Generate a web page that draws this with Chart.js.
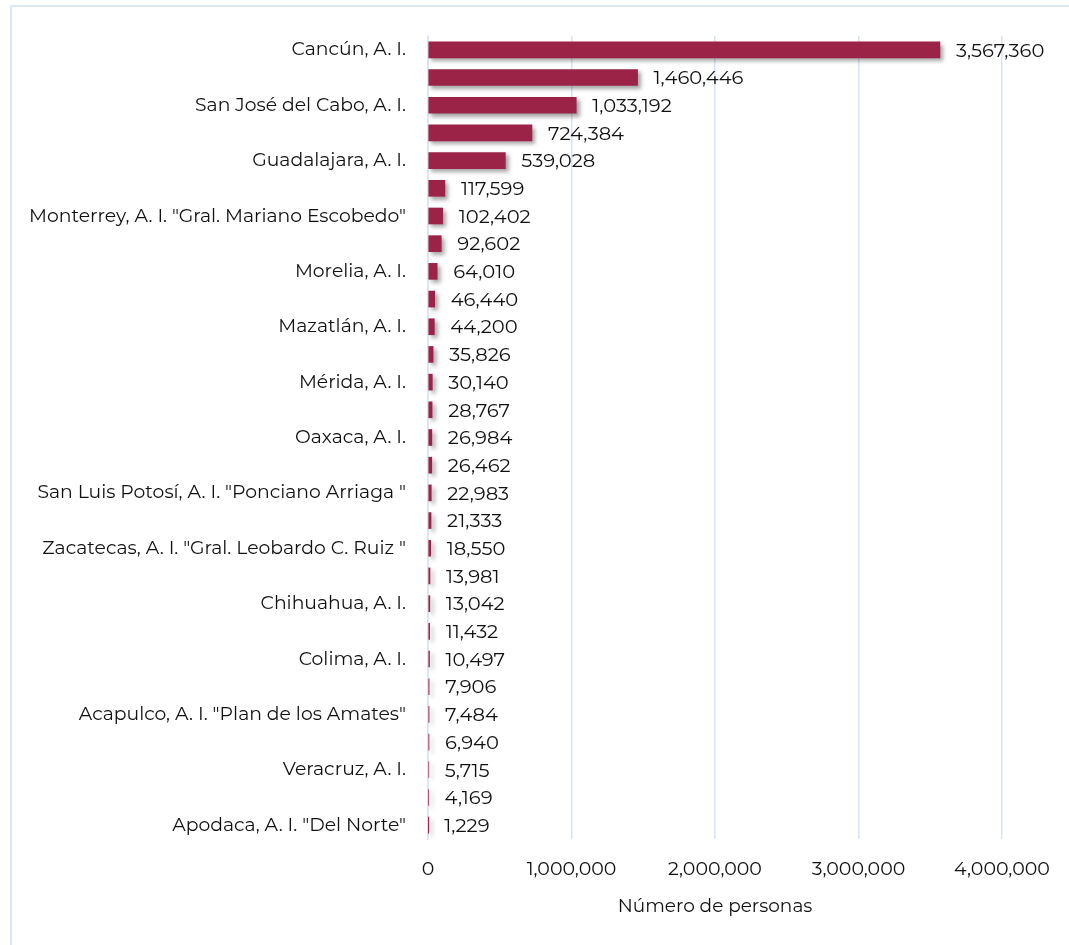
<!DOCTYPE html>
<html lang="es">
<head>
<meta charset="utf-8">
<title>Número de personas por aeropuerto</title>
<script src="https://cdn.jsdelivr.net/npm/chart.js@4.4.1/dist/chart.umd.min.js"></script>
<style>
  html, body { margin: 0; padding: 0; background: #fff; overflow: hidden; }
  .marco {
    position: absolute; left: 10px; top: 5px;
    width: 1100px; height: 980px;
    border: 2px solid #dde8f5;
    box-sizing: border-box;
  }
  .lienzo { position: absolute; left: 0; top: 0; width: 1069px; height: 945px; }
</style>
</head>
<body>
<div class="marco"></div>
<div class="lienzo"><canvas id="grafica"></canvas></div>
<script>
// Aeropuertos (solo se rotulan los alternos, el resto queda en blanco)
const aeropuertos = [
  'Cancún, A. I.', '',
  'San José del Cabo, A. I.', '',
  'Guadalajara, A. I.', '',
  'Monterrey, A. I. "Gral. Mariano Escobedo"', '',
  'Morelia, A. I.', '',
  'Mazatlán, A. I.', '',
  'Mérida, A. I.', '',
  'Oaxaca, A. I.', '',
  'San Luis Potosí, A. I. "Ponciano Arriaga "', '',
  'Zacatecas, A. I. "Gral. Leobardo C. Ruiz "', '',
  'Chihuahua, A. I.', '',
  'Colima, A. I.', '',
  'Acapulco, A. I. "Plan de los Amates"', '',
  'Veracruz, A. I.', '',
  'Apodaca, A. I. "Del Norte"'
];

const personas = [
  3567360, 1460446, 1033192, 724384, 539028, 117599, 102402, 92602,
  64010, 46440, 44200, 35826, 30140, 28767, 26984, 26462, 22983,
  21333, 18550, 13981, 13042, 11432, 10497, 7906, 7484, 6940, 5715,
  4169, 1229
];

const ejeX = [0, 1000000, 2000000, 3000000, 4000000];

const fuente = 'Montserrat, "DejaVu Sans", sans-serif';
const fmt = n => n.toLocaleString('en-US');

// sombra suave bajo las barras
const sombra = {
  id: 'sombra',
  beforeDatasetDraw(chart) {
    const ctx = chart.ctx;
    ctx.save();
    ctx.shadowColor = 'rgba(0,0,0,0.35)';
    ctx.shadowOffsetX = 3;
    ctx.shadowOffsetY = 3;
    ctx.shadowBlur = 4;
  },
  afterDatasetDraw(chart) {
    chart.ctx.restore();
  }
};

// valor escrito a la derecha de cada barra
const etiquetas = {
  id: 'etiquetas',
  afterDatasetsDraw(chart) {
    const ctx = chart.ctx;
    const meta = chart.getDatasetMeta(0);
    ctx.save();
    ctx.font = '19.5px ' + fuente;
    ctx.fillStyle = '#111';
    ctx.textAlign = 'left';
    ctx.textBaseline = 'middle';
    meta.data.forEach((bar, i) => {
      ctx.fillText(fmt(personas[i]), bar.x + 16, bar.y + 1);
    });
    ctx.restore();
  }
};

new Chart(document.getElementById('grafica'), {
  type: 'bar',
  data: {
    labels: aeropuertos,
    datasets: [{
      data: personas,
      backgroundColor: '#9b2348',
      barThickness: 16,
      borderWidth: 0
    }]
  },
  options: {
    indexAxis: 'y',
    responsive: true,
    maintainAspectRatio: false,
    animation: false,
    layout: { padding: { top: 36, right: 67, bottom: 0, left: 0 } },
    plugins: {
      legend: { display: false },
      tooltip: { enabled: false }
    },
    scales: {
      x: {
        min: 0,
        max: 4000000,
        afterBuildTicks: scale => { scale.ticks = ejeX.map(v => ({ value: v })); },
        ticks: {
          padding: 19,
          color: '#111',
          font: { family: fuente, size: 19 },
          callback: v => fmt(v)
        },
        grid: { color: '#d8e4f2', lineWidth: 1.5, drawTicks: false },
        border: { display: false },
        title: {
          display: true,
          text: 'Número de personas',
          color: '#111',
          font: { family: fuente, size: 18.5 },
          padding: { top: 0, bottom: 27 }
        },
        afterFit: scale => { scale.height = 106; }
      },
      y: {
        ticks: {
          autoSkip: false,
          padding: 22,
          color: '#111',
          font: { family: fuente, size: 18.8 }
        },
        grid: { display: false, drawTicks: false },
        border: { display: true, color: '#d8e4f2', width: 1.5 },
        afterFit: scale => { scale.width = 428; }
      }
    }
  },
  plugins: [sombra, etiquetas]
});
</script>
</body>
</html>
